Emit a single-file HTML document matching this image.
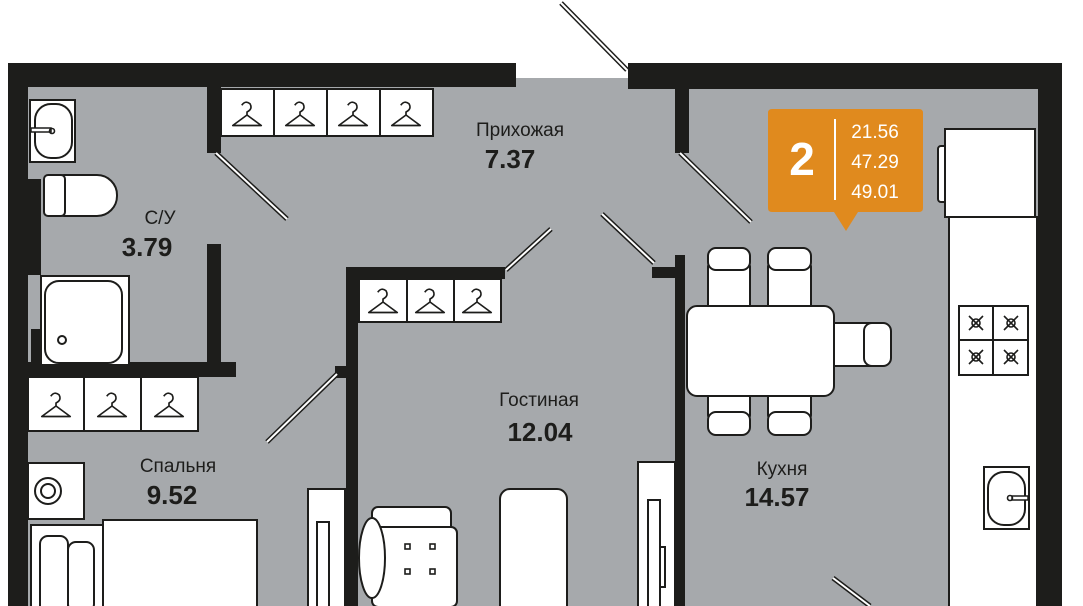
<!DOCTYPE html>
<html><head><meta charset="utf-8"><style>
html,body{margin:0;padding:0;background:#fff;}
svg{display:block;}
.t{font-family:"Liberation Sans",sans-serif;fill:#1d1d1b;text-anchor:middle;}
</style></head><body>
<svg width="1083" height="606" viewBox="0 0 1083 606" xmlns="http://www.w3.org/2000/svg">
<defs>
<g id="h"><g transform="scale(1.5)"><path d="M-9.5,7 L0,0 L9.5,7 Z M0,0 L0,-2 Q4,-4 2,-7.5 Q-1,-10 -3.5,-6.5" fill="none" stroke="#1d1d1b" stroke-width="1.1" stroke-linejoin="round"/></g></g>
</defs>
<rect x="20" y="78" width="1030" height="528" fill="#a6a9ac"/>
<rect x="516" y="60" width="112" height="18" fill="#fff"/>
<g fill="#1d1d1b">
<rect x="8" y="63" width="508" height="24"/>
<rect x="628" y="63" width="434" height="26"/>
<rect x="8" y="63" width="20" height="543"/>
<rect x="1038" y="63" width="24" height="543"/>
<rect x="27" y="179" width="14" height="96"/>
<rect x="31" y="329" width="10" height="36"/>
<rect x="207" y="87" width="14" height="66"/>
<rect x="207" y="244" width="14" height="121"/>
<rect x="27" y="362" width="209" height="15"/>
<rect x="346" y="267" width="159" height="12"/>
<rect x="346" y="267" width="12" height="339"/>
<rect x="335" y="366" width="12" height="12"/>
<rect x="675" y="89" width="14" height="64"/>
<rect x="652" y="267" width="33" height="11"/>
<rect x="675" y="255" width="10" height="351"/>
</g>
<g stroke="#1d1d1b" stroke-width="5" fill="none">
<line x1="561" y1="3" x2="627" y2="70"/>
<line x1="216" y1="153" x2="287" y2="219"/>
<line x1="506" y1="270" x2="551" y2="229"/>
<line x1="267" y1="442" x2="337" y2="374"/>
<line x1="680" y1="153" x2="751" y2="222"/>
<line x1="602" y1="214" x2="654" y2="263"/>
<line x1="833" y1="578" x2="870" y2="606"/>
</g>
<g stroke="#fff" stroke-width="2" fill="none">
<line x1="561" y1="3" x2="627" y2="70"/>
<line x1="216" y1="153" x2="287" y2="219"/>
<line x1="506" y1="270" x2="551" y2="229"/>
<line x1="267" y1="442" x2="337" y2="374"/>
<line x1="680" y1="153" x2="751" y2="222"/>
<line x1="602" y1="214" x2="654" y2="263"/>
<line x1="833" y1="578" x2="870" y2="606"/>
</g>
<g fill="#fff" stroke="#1d1d1b" stroke-width="2">
<rect x="221" y="89" width="53" height="47"/><rect x="274" y="89" width="53" height="47"/><rect x="327" y="89" width="53" height="47"/><rect x="380" y="89" width="53" height="47"/>
<rect x="28" y="377" width="56" height="54"/><rect x="84" y="377" width="57" height="54"/><rect x="141" y="377" width="57" height="54"/>
<rect x="359" y="279" width="48" height="43"/><rect x="407" y="279" width="47" height="43"/><rect x="454" y="279" width="47" height="43"/>
<rect x="30" y="100" width="45" height="62"/>
<rect x="35" y="104" width="37" height="54" rx="16"/>
<rect x="31" y="128" width="20" height="4" stroke-width="1.5"/>
<rect x="44" y="175" width="73" height="41" rx="20"/>
<rect x="44" y="175" width="21" height="41" rx="4"/>
<rect x="41" y="276" width="88" height="89"/>
<rect x="45" y="281" width="77" height="82" rx="14"/>
<circle cx="62" cy="340" r="4"/>
<rect x="28" y="463" width="56" height="56"/>
<circle cx="48" cy="491" r="13"/><circle cx="48" cy="491" r="7"/>
<rect x="31" y="525" width="226" height="90"/>
<rect x="103" y="520" width="154" height="95"/>
<rect x="40" y="536" width="28" height="80" rx="8"/>
<rect x="68" y="542" width="26" height="70" rx="8"/>
<rect x="308" y="489" width="37" height="130"/>
<rect x="317" y="522" width="12" height="90"/>
<rect x="372" y="507" width="79" height="28" rx="6"/>
<rect x="372" y="527" width="85" height="80" rx="6"/>
<ellipse cx="372" cy="558" rx="13" ry="40"/>
<rect x="500" y="489" width="67" height="130" rx="10"/>
<rect x="638" y="462" width="37" height="150"/>
<rect x="648" y="500" width="12" height="110"/>
<rect x="660" y="547" width="5" height="40"/>
<rect x="949" y="217" width="88" height="400"/>
<rect x="938" y="146" width="10" height="56" rx="3"/>
<rect x="945" y="129" width="90" height="88"/>
<rect x="959" y="306" width="34" height="34"/><rect x="993" y="306" width="35" height="34"/>
<rect x="959" y="340" width="34" height="35"/><rect x="993" y="340" width="35" height="35"/>
<rect x="984" y="467" width="45" height="62"/>
<rect x="988" y="472" width="37" height="53" rx="16"/>
<rect x="1012" y="496" width="16" height="4" stroke-width="1.5"/>
<rect x="708" y="262" width="42" height="50" rx="5"/>
<rect x="708" y="248" width="42" height="22" rx="8"/>
<rect x="768" y="262" width="43" height="50" rx="5"/>
<rect x="768" y="248" width="43" height="22" rx="8"/>
<rect x="708" y="390" width="42" height="30" rx="5"/>
<rect x="708" y="412" width="42" height="23" rx="8"/>
<rect x="768" y="390" width="43" height="30" rx="5"/>
<rect x="768" y="412" width="43" height="23" rx="8"/>
<rect x="826" y="323" width="50" height="43" rx="5"/>
<rect x="864" y="323" width="27" height="43" rx="8"/>
<rect x="687" y="306" width="147" height="90" rx="10"/>
</g>
<g fill="none" stroke="#1d1d1b" stroke-width="1.6">
<g transform="translate(976,323)"><circle r="4"/><path d="M-7,-7L7,7M7,-7L-7,7"/></g>
<g transform="translate(1011,323)"><circle r="4"/><path d="M-7,-7L7,7M7,-7L-7,7"/></g>
<g transform="translate(976,357)"><circle r="4"/><path d="M-7,-7L7,7M7,-7L-7,7"/></g>
<g transform="translate(1011,357)"><circle r="4"/><path d="M-7,-7L7,7M7,-7L-7,7"/></g>
<rect x="405" y="544" width="5" height="5"/><rect x="430" y="544" width="5" height="5"/>
<rect x="405" y="569" width="5" height="5"/><rect x="430" y="569" width="5" height="5"/>
<circle cx="1010" cy="498" r="2.5"/>
<circle cx="52" cy="131" r="2.5"/>
</g>
<use href="#h" x="247" y="115"/><use href="#h" x="300" y="115"/><use href="#h" x="353" y="115"/><use href="#h" x="406" y="115"/>
<use href="#h" x="56" y="406"/><use href="#h" x="112" y="406"/><use href="#h" x="169" y="406"/>
<use href="#h" x="383" y="302"/><use href="#h" x="430" y="302"/><use href="#h" x="477" y="302"/>
<path d="M772,109 H919 Q923,109 923,113 V208 Q923,212 919,212 H858 L846,231 L834,212 H772 Q768,212 768,208 V113 Q768,109 772,109 Z" fill="#e08a1e"/>
<line x1="835" y1="119" x2="835" y2="200" stroke="#fff" stroke-width="2"/>
<text x="802" y="175" class="t" style="fill:#fff;font-size:46px;font-weight:bold">2</text>
<text x="875" y="138" class="t" style="fill:#fff;font-size:19px">21.56</text>
<text x="875" y="168" class="t" style="fill:#fff;font-size:19px">47.29</text>
<text x="875" y="198" class="t" style="fill:#fff;font-size:19px">49.01</text>
<text x="520" y="136" class="t" style="font-size:19px">Прихожая</text>
<text x="510" y="168" class="t" style="font-size:26px;font-weight:bold">7.37</text>
<text x="160" y="224" class="t" style="font-size:19px">С/У</text>
<text x="147" y="256" class="t" style="font-size:26px;font-weight:bold">3.79</text>
<text x="178" y="472" class="t" style="font-size:19px">Спальня</text>
<text x="172" y="504" class="t" style="font-size:26px;font-weight:bold">9.52</text>
<text x="539" y="406" class="t" style="font-size:19px">Гостиная</text>
<text x="540" y="441" class="t" style="font-size:26px;font-weight:bold">12.04</text>
<text x="782" y="475" class="t" style="font-size:19px">Кухня</text>
<text x="777" y="506" class="t" style="font-size:26px;font-weight:bold">14.57</text>
</svg>
</body></html>
